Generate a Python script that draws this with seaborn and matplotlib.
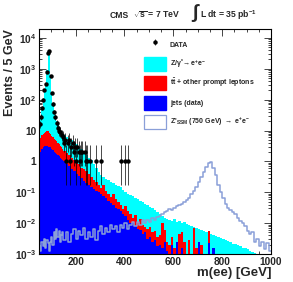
import numpy as np
import pandas as pd
import matplotlib
matplotlib.use("Agg")
import matplotlib.pyplot as plt
from matplotlib.patches import Patch
from matplotlib.ticker import MultipleLocator, LogLocator, NullFormatter, FixedLocator, FixedFormatter
import seaborn as sns

# binning: 5 GeV up to 150 GeV, 10 GeV above (values are still events / 5 GeV)
EDGES = list(range(50, 150, 5)) + list(range(150, 1001, 10))

# stack tops (log10 of events / 5 GeV), None = empty bin
TOTAL_LOG = [
    1.2, 1.45, 1.75, 2.0, 2.3, 2.55, 2.95, 3.6, 3.62, 2.8,
    2.2, 1.85, 1.6, 1.45, 1.3, 1.18, 1.08, 1.0, 0.93, 0.88,
    0.84, 0.8, 0.74, 0.68, 0.6, 0.55, 0.47, 0.4, 0.3, 0.22,
    0.12, 0.03, -0.08, -0.2, -0.33, -0.44, -0.5, -0.57, -0.6, -0.67,
    -0.71, -0.76, -0.8, -0.84, -0.93, -1.0, -1.05, -1.1, -1.13, -1.2,
    -1.23, -1.28, -1.32, -1.37, -1.42, -1.47, -1.52, -1.57, -1.65, -1.71,
    -1.77, -1.82, -1.86, -1.91, -1.93, -1.88, -1.95, -1.92, -1.99, -1.97,
    -2.02, -2.05, -2.08, -2.11, -2.15, -2.19, -2.22, -2.25, -2.29, -2.32,
    -2.36, -2.4, -2.43, -2.46, -2.49, -2.52, -2.55, -2.58, -2.62, -2.66,
    -2.69, -2.72, -2.75, -2.79, -2.82, -2.85, -2.89, -2.92, -2.96, -3.0,
    None, None, None, None, None,
]
TTBAR_TOP_LOG = [
    0.55, 0.75, 0.85, 0.9, 0.93, 0.95, 1.0, 0.97, 0.93, 0.88,
    0.82, 0.78, 0.74, 0.7, 0.66, 0.6, 0.55, 0.5, 0.45, 0.4,
    0.35, 0.28, 0.22, 0.12, 0.05, -0.02, -0.1, -0.2, -0.26, -0.32,
    -0.42, -0.5, -0.6, -0.66, -0.76, -0.85, -0.76, -0.95, -1.05, -1.15,
    -1.05, -1.22, -1.3, -1.42, -1.55, -1.45, -1.62, -1.7, -1.85, -1.75,
    -1.95, -1.88, -2.05, -2.12, -2.2, -2.14, -2.3, -2.25, -2.45, -2.38,
    -1.98, -2.22, -2.6, -2.7, -2.45, -2.8, None, -2.35, -2.3, -2.6,
    None, -2.55, None, -2.15, -2.8, -2.6, -2.7, None, None, -2.25,
    None, -2.85, None, None, None, None, None, None, None, None,
    None, None, None, None, None, None, None, None, None, None,
    None, None, None, None, None,
]
JETS_LOG = [
    0.15, 0.3, 0.4, 0.45, 0.5, 0.5, 0.5, 0.48, 0.47, 0.45,
    0.4, 0.36, 0.32, 0.28, 0.25, 0.2, 0.16, 0.12, 0.08, 0.04,
    0.0, -0.07, -0.15, -0.25, -0.32, -0.4, -0.48, -0.55, -0.62, -0.7,
    -0.76, -0.82, -0.88, -0.95, -1.0, -1.05, -1.12, -1.2, -1.28, -1.36,
    -1.4, -1.5, -1.55, -1.62, -1.7, -1.78, -1.9, -2.0, -1.95, -2.1,
    -2.2, -2.22, -2.35, -2.3, -2.5, -2.45, -2.6, -2.55, -2.75, -2.7,
    -2.8, -2.6, -2.9, None, -2.7, None, -2.6, None, -2.82, None,
    None, None, None, None, None, -2.6, None, None, None, -2.65,
    None, -2.82, None, None, None, None, None, None, None, None,
    None, None, None, None, None, None, None, None, None, None,
    None, None, None, None, None,
]
ZPRIME_LOG = [
    -2.75, -2.9, -2.6, -2.75, -2.5, -2.8, -2.55, -2.65, -2.9, -2.6,
    -2.45, -2.7, -2.3, -2.5, -2.2, -2.45, -2.25, -2.6, -2.4, -2.3,
    -2.55, -2.3, -2.6, -2.35, -2.2, -2.5, -2.25, -2.4, -2.15, -2.5,
    -2.3, -2.45, -2.2, -2.55, -2.25, -2.1, -2.35, -2.15, -2.3, -2.05,
    -2.2, -2.1, -2.3, -2.05, -2.15, -2.0, -2.2, -2.05, -1.95, -2.1,
    -1.95, -2.05, -1.9, -2.0, -1.9, -1.95, -1.85, -1.9, -1.8, -1.78,
    -1.72, -1.65, -1.62, -1.55, -1.58, -1.5, -1.45, -1.42, -1.38, -1.32,
    -1.25, -1.18, -1.05, -0.95, -0.82, -0.68, -0.52, -0.35, -0.18, -0.04,
    -0.02, -0.2, -0.45, -0.75, -1.0, -1.2, -1.38, -1.5, -1.58, -1.65,
    -1.72, -1.85, -1.92, -2.0, -2.1, -2.25, -2.35, -2.3, -2.6, -2.5,
    -2.75, -2.6, -2.85, -2.65, -2.9,
]

# data: 5 GeV bin centres and counts
DATA_MASS = [
    52.5, 57.5, 62.5, 67.5, 72.5, 77.5, 82.5, 87.5, 92.5, 97.5,
    102.5, 107.5, 112.5, 117.5, 122.5, 127.5, 132.5, 137.5, 142.5, 147.5,
    152.5, 157.5, 162.5, 167.5, 172.5, 177.5, 182.5, 187.5, 192.5, 197.5,
    202.5, 207.5, 212.5, 217.5, 222.5, 227.5, 237.5, 242.5, 247.5, 257.5,
    282.5, 302.5, 387.5, 402.5, 412.5,
]
DATA_COUNTS = [
    16, 28, 55, 100, 200, 330, 800, 3300, 3700, 600,
    160, 72, 40, 28, 17, 12, 10, 9, 7, 6,
    4, 5, 1, 4, 5, 1, 3, 4, 2, 3,
    1, 3, 2, 1, 2, 2, 2, 1, 1, 1,
    1, 1, 1, 1, 1,
]

PROCESSES = [r"Z/$\gamma^{*}\!\rightarrow$e$^{+}$e$^{-}$", r"t$\bar{t}$ + other prompt leptons", "jets (data)"]
COLORS = ["#00ffff", "#ff0000", "#0000ff"]
ZPRIME_LABEL = r"Z'$_{SSM}$ (750 GeV) $\rightarrow$ e$^{+}$e$^{-}$"
ZPRIME_COLOR = "#8a9fd8"
Y_TICKS = [1e-3, 1e-2, 1e-1, 1, 10, 1e2, 1e3, 1e4]
Y_TICK_LABELS = ["10$^{-3}$", "10$^{-2}$", "10$^{-1}$", "1", "10", "10$^{2}$", "10$^{3}$", "10$^{4}$"]


def _lin(vals):
    arr = np.array([np.nan if v is None else v for v in vals], dtype=float)
    return np.nan_to_num(10.0 ** arr, nan=0.0)


sns.set_theme(style="ticks")
plt.rcParams["font.family"] = ["Liberation Sans", "DejaVu Sans"]
plt.rcParams["font.weight"] = "bold"
plt.rcParams["mathtext.fontset"] = "custom"
plt.rcParams["mathtext.rm"] = "Liberation Sans:bold"
plt.rcParams["mathtext.it"] = "Liberation Sans:bold"
plt.rcParams["mathtext.bf"] = "Liberation Sans:bold"
plt.rcParams["mathtext.default"] = "bf"

edges = np.array(EDGES, dtype=float)
centers = (edges[:-1] + edges[1:]) / 2

jets = _lin(JETS_LOG)
tt_top = np.maximum(_lin(TTBAR_TOP_LOG), jets)
tt = tt_top - jets
dy = np.clip(_lin(TOTAL_LOG) - tt_top, 0, None)
zp = _lin(ZPRIME_LOG)

stack = pd.DataFrame({
    "mass": np.tile(centers, 3),
    "events": np.concatenate([dy, tt, jets]),
    "process": np.repeat(PROCESSES, len(centers)),
})

fig = plt.figure(figsize=(2.93, 2.82), dpi=100)
ax = fig.add_axes([0.133, 0.0993, 0.792, 0.798])

sns.histplot(
    data=stack, x="mass", weights="events", hue="process", hue_order=PROCESSES,
    palette=COLORS, multiple="stack", bins=EDGES, element="step", fill=True,
    alpha=1, linewidth=0, legend=False, ax=ax,
)
sns.histplot(
    x=centers, weights=zp, bins=EDGES, element="step", fill=False,
    color=ZPRIME_COLOR, linewidth=1.1, ax=ax,
)

data_n = np.array(DATA_COUNTS, dtype=float)
err_lo = data_n - data_n * (1 - 1 / (9 * data_n) - 1 / (3 * np.sqrt(data_n))) ** 3
err_hi = 1 + np.sqrt(data_n + 0.75)
data_art = ax.errorbar(
    DATA_MASS, DATA_COUNTS, yerr=[err_lo, err_hi], fmt="o", color="black",
    ms=2.2, elinewidth=0.5, capsize=0, label="DATA",
)

ax.set_yscale("log")
ax.set_xlim(50, 1000)
ax.set_ylim(1e-3, 1.95e4)

ax.xaxis.set_major_locator(MultipleLocator(200))
ax.xaxis.set_minor_locator(MultipleLocator(50))
ax.yaxis.set_major_locator(FixedLocator(Y_TICKS))
ax.yaxis.set_major_formatter(FixedFormatter(Y_TICK_LABELS))
ax.yaxis.set_minor_locator(LogLocator(base=10, subs=np.arange(2, 10)))
ax.yaxis.set_minor_formatter(NullFormatter())
ax.tick_params(which="both", direction="in", top=True, right=True, width=0.6, labelsize=7.3, pad=2)
ax.tick_params(which="major", length=5)
ax.tick_params(which="minor", length=2.5)
for sp in ax.spines.values():
    sp.set_linewidth(0.8)
    sp.set_color("black")

ax.set_xlabel("m(ee) [GeV]", fontsize=9.5, fontweight="bold", loc="right")
ax.xaxis.set_label_coords(1.0, -0.056)
ax.set_ylabel("Events / 5 GeV", fontsize=9, fontweight="bold", loc="top")
ax.yaxis.set_label_coords(-0.1, 1.0)

leg_kw = dict(
    frameon=False, fontsize=5.0, borderpad=0, borderaxespad=0,
    handlelength=3.17, handleheight=2.7, handletextpad=0.55, labelspacing=0.8,
    loc="upper left", bbox_transform=fig.transFigure,
)
leg1 = ax.legend([data_art], ["DATA"], bbox_to_anchor=(144 / 293, 1 - 37.5 / 282), **leg_kw)
ax.add_artist(leg1)
handles = [Patch(facecolor=c, edgecolor=c) for c in COLORS]
handles.append(Patch(facecolor="white", edgecolor=ZPRIME_COLOR, linewidth=0.9))
ax.legend(handles, PROCESSES + [ZPRIME_LABEL], bbox_to_anchor=(144 / 293, 1 - 57 / 282), **leg_kw)

fig.text(110 / 293, 1 - 15 / 282, "CMS", fontsize=6.2, fontweight="bold", va="center")
fig.text(133 / 293, 1 - 15 / 282, r"$\sqrt{s}$ = 7 TeV", fontsize=6.2, fontweight="bold", va="center")
fig.text(191 / 293, 1 - 12.5 / 282, r"$\int$", fontsize=14, va="center")
fig.text(200 / 293, 1 - 15 / 282, r"L dt = 35 pb$^{-1}$", fontsize=6.2, fontweight="bold", va="center")

fig.savefig("out.png", dpi=100)
